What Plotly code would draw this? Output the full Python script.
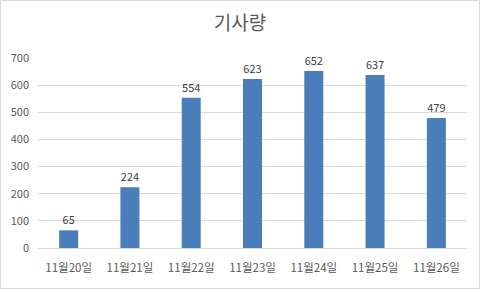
import plotly.graph_objects as go

categories = ["11월20일", "11월21일", "11월22일", "11월23일", "11월24일", "11월25일", "11월26일"]
values = [65, 224, 554, 623, 652, 637, 479]
title_text = "기사량"

W, H = 480, 289
L, R, T, B = 38, 13, 58, 41
pw, ph = W - L - R, H - T - B

fig = go.Figure(go.Bar(
    x=categories, y=values,
    marker=dict(color="#4a7ebb", line=dict(width=0)),
    text=[str(v) for v in values], textposition="outside",
    textfont=dict(size=11, color="#404040", family="Noto Sans CJK KR"),
    cliponaxis=False,
))

fig.update_layout(
    width=W, height=H,
    margin=dict(l=L, r=R, t=T, b=B),
    paper_bgcolor="white", plot_bgcolor="white",
    bargap=0.69,
    showlegend=False,
    font=dict(family="Noto Sans CJK KR", size=11, color="#595959"),
    title=dict(text=title_text, x=0.5, xanchor="center", y=1 - 23 / H, yanchor="middle",
               font=dict(size=19, color="#595959", family="Noto Sans CJK KR")),
    xaxis=dict(showline=True, linecolor="#d9d9d9", linewidth=1, ticks="",
               ticklabelstandoff=9,
               tickfont=dict(size=11.5, color="#595959")),
    yaxis=dict(range=[0, 700], dtick=100, showgrid=True, gridcolor="#d9d9d9", gridwidth=1,
               zeroline=False, ticks="", ticklabelstandoff=8,
               tickfont=dict(size=11, color="#595959")),
    shapes=[dict(type="rect", xref="paper", yref="paper",
                 x0=(0.5 - L) / pw, x1=(W - 0.5 - L) / pw,
                 y0=(H - B - (H - 0.5)) / ph, y1=(H - B - 0.5) / ph,
                 line=dict(color="#d9d9d9", width=1), fillcolor="rgba(0,0,0,0)", layer="below")],
)

fig.write_html("out.html")
